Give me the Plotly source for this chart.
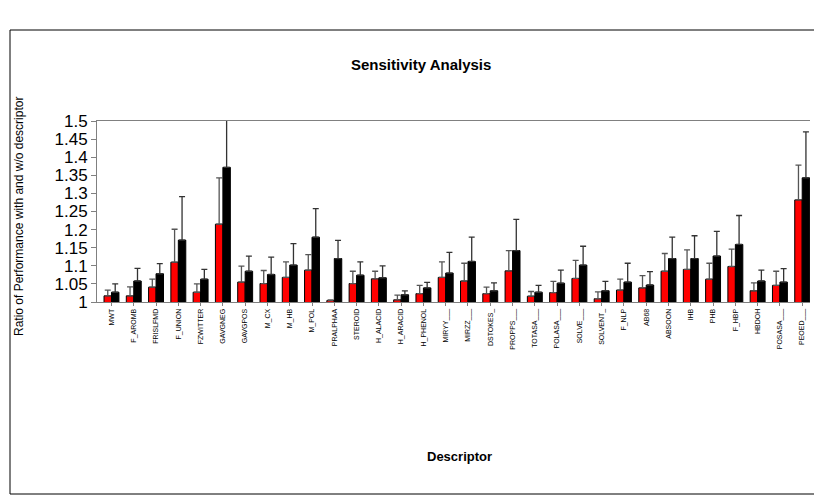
import plotly.graph_objects as go

descriptors = ["MWT", "F_AROMB", "FRISLFMD", "F_UNION", "FZWITTER", "GAVGNEG", "GAVGPOS",
               "M_CX", "M_HB", "M_POL", "PRALPHAA", "STEROID", "H_ALACID", "H_ARACID",
               "H_PHENOL", "MIRYY___", "MIRZZ___", "DSTOKES_", "PROPPS___", "TOTASA___",
               "POLASA___", "SOLVE___", "SOLVENT_", "F_NLP", "AB68", "ABSOON", "IHB",
               "PHB", "F_HBP", "HBDOH", "POSASA___", "PEOED___"]

ratio_with = [1.017, 1.017, 1.041, 1.110, 1.027, 1.215, 1.055, 1.051, 1.068, 1.088, 1.004,
              1.051, 1.064, 1.006, 1.023, 1.068, 1.058, 1.023, 1.086, 1.016, 1.026, 1.065,
              1.009, 1.033, 1.039, 1.085, 1.090, 1.063, 1.098, 1.031, 1.046, 1.282]
err_with = [0.016, 0.025, 0.022, 0.091, 0.023, 0.128, 0.044, 0.036, 0.043, 0.043, 0.002,
            0.034, 0.021, 0.013, 0.023, 0.043, 0.049, 0.018, 0.056, 0.013, 0.031, 0.050,
            0.019, 0.030, 0.034, 0.049, 0.054, 0.044, 0.048, 0.022, 0.039, 0.096]

ratio_without = [1.027, 1.058, 1.078, 1.171, 1.063, 1.372, 1.085, 1.076, 1.102, 1.179, 1.120,
                 1.074, 1.067, 1.020, 1.039, 1.080, 1.112, 1.031, 1.142, 1.027, 1.052, 1.102,
                 1.031, 1.055, 1.047, 1.120, 1.120, 1.127, 1.159, 1.058, 1.055, 1.343]
err_without = [0.023, 0.035, 0.028, 0.120, 0.027, 0.135, 0.042, 0.048, 0.059, 0.079, 0.050,
               0.037, 0.033, 0.011, 0.015, 0.057, 0.067, 0.022, 0.086, 0.019, 0.036, 0.052,
               0.026, 0.052, 0.037, 0.059, 0.063, 0.068, 0.080, 0.030, 0.037, 0.127]

y_ticks = [1.0, 1.05, 1.1, 1.15, 1.2, 1.25, 1.3, 1.35, 1.4, 1.45, 1.5]
y_tick_text = ["1", "1.05", "1.1", "1.15", "1.2", "1.25", "1.3", "1.35", "1.4", "1.45", "1.5"]

fig = go.Figure()
fig.add_trace(go.Bar(
    x=descriptors, y=ratio_with,
    marker=dict(color="#FF0000", line=dict(color="#000000", width=1)),
    error_y=dict(type="data", symmetric=False, array=err_with, arrayminus=[0] * len(err_with),
                 color="#555555", thickness=1.3, width=3),
    name="with"))
fig.add_trace(go.Bar(
    x=descriptors, y=ratio_without,
    marker=dict(color="#000000", line=dict(color="#000000", width=1)),
    error_y=dict(type="data", symmetric=False, array=err_without, arrayminus=[0] * len(err_without),
                 color="#333333", thickness=1.3, width=3),
    name="without"))

# the page body adds an 8px offset; figure coords = page coords - 8
OFF = 8
W, H = 814, 492
L, T = 97 - OFF, 121 - OFF
R = W - (810 - OFF)
B = H - (302 - OFF)
pw = W - L - R
ph = H - T - B

def px(x):
    return (x - OFF - L) / pw

def py(y):
    return (H - B - (y - OFF)) / ph

fig.update_layout(
    width=W, height=H, autosize=False,
    margin=dict(l=L, r=R, t=T, b=B, pad=0),
    paper_bgcolor="white", plot_bgcolor="white",
    showlegend=False,
    barmode="group", bargap=0.33, bargroupgap=0.0,
    font=dict(family="Liberation Sans, Arial, sans-serif", color="#000000"),
    xaxis=dict(
        type="category", range=[-0.65, 31.35],
        showline=True, linecolor="#808080", linewidth=1, mirror=True,
        ticks="outside", ticklen=3, tickcolor="#808080",
        tickangle=-90, tickfont=dict(size=7, family="Liberation Sans, Arial, sans-serif", color="#000000"),
        showgrid=False, zeroline=False),
    yaxis=dict(
        range=[1.0, 1.5], tickvals=y_ticks, ticktext=y_tick_text,
        showline=True, linecolor="#808080", linewidth=1,
        ticks="outside", ticklen=5, tickcolor="#808080",
        tickfont=dict(size=17, family="Liberation Sans, Arial, sans-serif", color="#000000"),
        showgrid=False, zeroline=False),
    shapes=[dict(type="rect", xref="paper", yref="paper",
                 x0=px(10), x1=px(815), y0=py(494), y1=py(30),
                 line=dict(color="#000000", width=1), fillcolor="rgba(0,0,0,0)", layer="below")],
    annotations=[
        dict(text="<b>Sensitivity Analysis</b>", xref="paper", yref="paper",
             x=px(421), y=py(65), showarrow=False, xanchor="center", yanchor="middle",
             font=dict(size=15, family="Liberation Sans, Arial, sans-serif")),
        dict(text="<b>Descriptor</b>", xref="paper", yref="paper",
             x=px(459), y=py(456), showarrow=False, xanchor="center", yanchor="middle",
             font=dict(size=13, family="Liberation Sans, Arial, sans-serif")),
        dict(text="Ratio of Performance with and w/o descriptor", xref="paper", yref="paper",
             x=px(19), y=py(217), showarrow=False, xanchor="center", yanchor="middle",
             textangle=-90,
             font=dict(size=12, family="Liberation Sans, Arial, sans-serif")),
    ],
)

fig.write_html("out.html")
